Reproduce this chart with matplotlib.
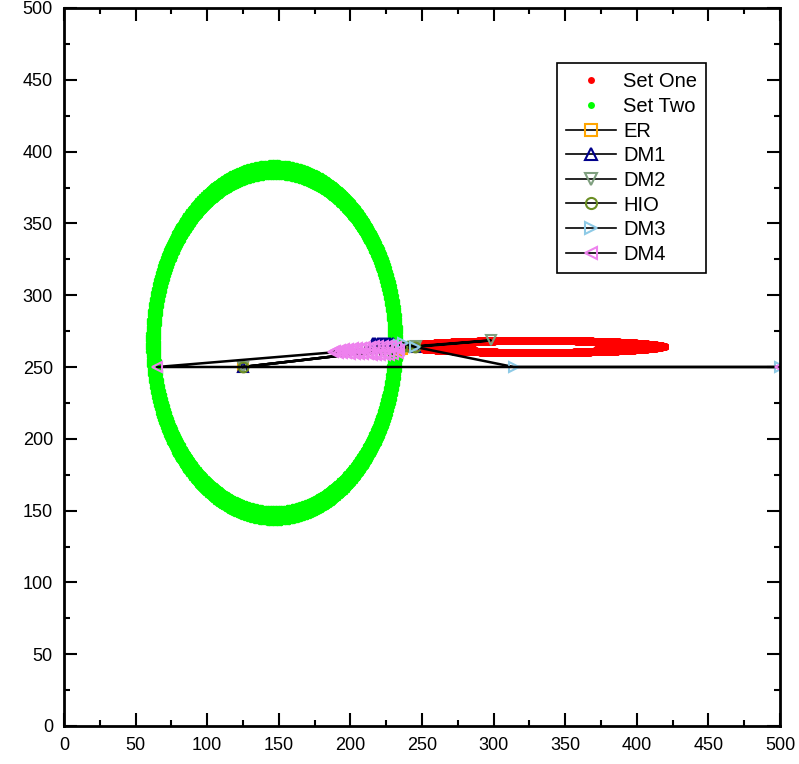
import numpy as np
import matplotlib
matplotlib.use("Agg")
import matplotlib.pyplot as plt
from matplotlib.ticker import MultipleLocator

plt.rcParams['font.family'] = ['Liberation Sans', 'DejaVu Sans']

# ---- Set One (red flat ring) parameters ----
set_one_center = (329.0, 264.3)
set_one_axes = (91.5, 5.4)
set_one_radii = [0.6, 0.68, 0.76, 0.84, 0.92, 1.0]

# ---- Set Two (green ring) parameters ----
set_two_center = (146.8, 267.0)
set_two_axes = (89.5, 127.5)
set_two_radii = [0.9, 0.91, 0.92, 0.93, 0.94, 0.95, 0.96, 0.97, 0.98, 0.99]

# ---- Algorithm iterates ----
er_x = [125, 245, 236, 234]
er_y = [250, 264, 262.5, 262]

dm1_x = [125, 245, 216, 217.5, 219, 220.5, 222, 223.5, 225, 226.5, 228, 229.5]
dm1_y = [250, 264, 266.6, 266.7, 266.6, 266.8, 266.6, 266.7, 266.8, 266.6, 266.7, 266.5]

dm2_x = [125, 245, 298, 246, 238]
dm2_y = [250, 264, 268.5, 264.5, 264]

hio_x = [125, 245, 240, 236]
hio_y = [250, 264, 264.5, 264]

dm3_x = [500, 314, 245, 237, 234]
dm3_y = [250, 250, 264, 266.5, 265]

dm4_x = [500, 65, 188, 189.5, 191, 192.5, 194, 195.5, 197, 198.5, 200, 201.5, 203,
         204.5, 206, 207.5, 209, 210.5, 212, 213.5, 215, 216.5, 218, 219.5, 221,
         222.5, 224, 225.5, 227, 228.5, 230, 231.5, 233, 234]
dm4_y = [250, 250, 260.2, 261.3, 259.8, 261.8, 259.6, 262.2, 259.5, 262.5, 259.3,
         262.9, 259.2, 263.2, 259.0, 263.5, 258.9, 263.8, 258.8, 264.1, 258.7,
         264.3, 258.6, 264.6, 258.5, 264.8, 258.5, 264.9, 258.6, 264.8, 259.0,
         264.2, 260.0, 262.0]

x_ticks = list(range(0, 501, 50))
y_ticks = list(range(0, 501, 50))


def ring(center, axes, radii, n=1000):
    t = np.linspace(0, 2 * np.pi, n, endpoint=False)
    xs, ys = [], []
    for r in radii:
        xs.append(center[0] + r * axes[0] * np.cos(t))
        ys.append(center[1] + r * axes[1] * np.sin(t))
    return np.concatenate(xs), np.concatenate(ys)


fig = plt.figure(figsize=(7.99, 7.64), dpi=100)
ax = fig.add_axes([64 / 799, 1 - 726 / 764, 716 / 799, 718 / 764])

sx, sy = ring(set_one_center, set_one_axes, set_one_radii)
ax.plot(sx, sy, linestyle='none', marker='o', ms=3.6, mew=0, color='#ff0000', label='Set One')
gx, gy = ring(set_two_center, set_two_axes, set_two_radii)
ax.plot(gx, gy, linestyle='none', marker='o', ms=2.4, mew=0, color='#00ff00', label='Set Two')

series = [
    ('ER', er_x, er_y, 's', '#ffa500'),
    ('DM1', dm1_x, dm1_y, '^', '#00008b'),
    ('DM2', dm2_x, dm2_y, 'v', '#7f9f7f'),
    ('HIO', hio_x, hio_y, 'o', '#6b8e23'),
    ('DM3', dm3_x, dm3_y, '>', '#8ecae6'),
    ('DM4', dm4_x, dm4_y, '<', '#ee82ee'),
]
for name, xs, ys, m, c in series:
    ax.plot(xs, ys, color='black', lw=1.8, marker=m, ms=7, mfc='none',
            mec=c, mew=1.5, label=name)

ax.set_xlim(0, 500)
ax.set_ylim(0, 500)
ax.set_xticks(x_ticks)
ax.set_yticks(y_ticks)
ax.xaxis.set_minor_locator(MultipleLocator(25))
ax.yaxis.set_minor_locator(MultipleLocator(25))
ax.tick_params(which='both', direction='in', top=True, right=True, width=1.5,
               labelsize=13, colors='black')
ax.tick_params(which='major', length=9.5)
ax.tick_params(which='minor', length=4.5)
ax.tick_params(axis='x', pad=8)
ax.tick_params(axis='y', pad=8)
for s in ax.spines.values():
    s.set_linewidth(2)

leg = ax.legend(loc='upper right', bbox_to_anchor=(0.897, 0.923), fontsize=14.5,
                frameon=True, fancybox=False, edgecolor='black', framealpha=1,
                handlelength=2.5, handletextpad=0.35, borderpad=0.45,
                labelspacing=0.28, markerscale=1.0, borderaxespad=0)
leg.get_frame().set_linewidth(1.2)
for h in leg.legend_handles[2:]:
    h.set_linewidth(1.2)
    h.set_markersize(8)
leg.legend_handles[0].set_markersize(5)
leg.legend_handles[1].set_markersize(5)

fig.savefig('out.png', dpi=100)
